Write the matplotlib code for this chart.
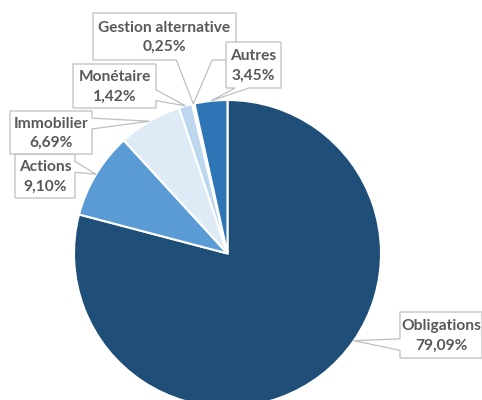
import math

import matplotlib
matplotlib.use("Agg")
import matplotlib.pyplot as plt
from matplotlib.patches import Polygon

# data
categories = ["Obligations", "Actions", "Immobilier", "Monétaire",
              "Gestion alternative", "Autres"]
values = [79.09, 9.10, 6.69, 1.42, 0.25, 3.45]
colors = ["#1F4E79", "#5B9BD5", "#DEEBF7", "#BDD7EE", "#EAF1FB", "#2E75B6"]

# layout (pixels, y downwards)
W, H = 482, 400
CX, CY, R = 227.5, 253.5, 153.5
boxes = {
    "Obligations": (400, 312, 482, 358),
    "Actions": (15, 154, 75, 198),
    "Immobilier": (10, 111, 92, 154),
    "Monétaire": (73, 64, 156, 108),
    "Gestion alternative": (93, 13, 236, 60),
    "Autres": (226, 42, 281, 88),
}
tip_angle_override = {"Obligations": -34.6}


def to_data(px, py):
    return (px - CX) / R, -(py - CY) / R


def to_px(x, y):
    return CX + x * R, CY - y * R


def callout_points(box, tip):
    x0, y0, x1, y1 = box
    tx, ty = tip
    w, h = x1 - x0, y1 - y0
    dx = (tx - (x0 + x1) / 2) / w
    dy = (ty - (y0 + y1) / 2) / h
    top, right, bottom, left = [], [], [], []
    if abs(dx) > abs(dy):
        f1, f2 = (7 / 12, 10 / 12) if dy > 0 else (2 / 12, 5 / 12)
        b1, b2 = y0 + f1 * h, y0 + f2 * h
        if dx > 0:
            right = [(x1, b1), tip, (x1, b2)]
        else:
            left = [(x0, b2), tip, (x0, b1)]
    else:
        f1, f2 = (7 / 12, 10 / 12) if dx > 0 else (2 / 12, 5 / 12)
        b1, b2 = x0 + f1 * w, x0 + f2 * w
        if dy > 0:
            bottom = [(b2, y1), tip, (b1, y1)]
        else:
            top = [(b1, y0), tip, (b2, y0)]
    pts = [(x0, y0)] + top + [(x1, y0)] + right + [(x1, y1)] + bottom \
        + [(x0, y1)] + left
    return [to_data(*p) for p in pts]


def main():
    fig = plt.figure(figsize=(W / 100, H / 100), dpi=100)
    ax = fig.add_axes([0, 0, 1, 1])
    wedges, _ = ax.pie(values, colors=colors, startangle=90,
                       counterclock=False, radius=1,
                       wedgeprops=dict(edgecolor="white", linewidth=1.5))
    ax.set_xlim(-CX / R, (W - CX) / R)
    ax.set_ylim(-(H - CY) / R, CY / R)
    ax.axis("off")

    for wedge, name, val in zip(wedges, categories, values):
        ang = tip_angle_override.get(name, (wedge.theta1 + wedge.theta2) / 2)
        tip = to_px(math.cos(math.radians(ang)), math.sin(math.radians(ang)))
        box = boxes[name]
        poly = Polygon(callout_points(box, tip), closed=True, facecolor="white",
                       edgecolor="#BFBFBF", linewidth=0.9, zorder=3)
        ax.add_patch(poly)
        tx, ty = to_data((box[0] + box[2]) / 2, (box[1] + box[3]) / 2 + 1)
        pct = "{:.2f}%".format(val).replace(".", ",")
        ax.text(tx, ty, name + "\n" + pct, ha="center", va="center",
                fontsize=11.2, fontfamily="Lato", fontweight="bold",
                color="#595959", linespacing=1.5, zorder=4)

    fig.savefig("out.png", dpi=100)


if __name__ == "__main__":
    main()
